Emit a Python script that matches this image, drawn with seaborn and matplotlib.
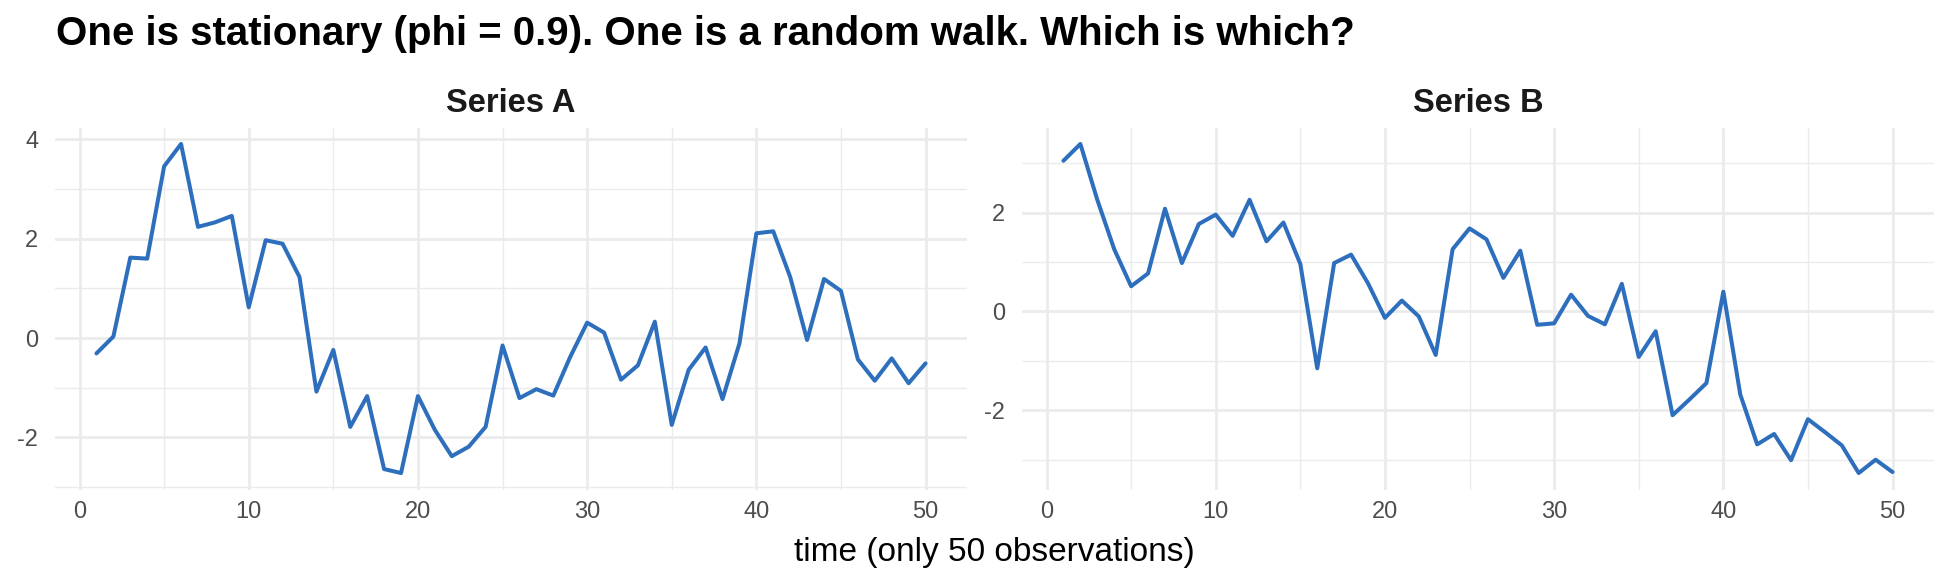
import numpy as np
import pandas as pd
import matplotlib
matplotlib.use("Agg")
import matplotlib.pyplot as plt
import seaborn as sns

# ---- data ----
time = list(range(1, 51))
series_a = [-0.31, 0.03, 1.62, 1.60, 3.46, 3.91, 2.24, 2.33, 2.46, 0.62,
            1.97, 1.90, 1.23, -1.08, -0.24, -1.79, -1.17, -2.64, -2.72, -1.17,
            -1.85, -2.38, -2.19, -1.79, -0.15, -1.21, -1.03, -1.16, -0.38, 0.31,
            0.11, -0.84, -0.55, 0.33, -1.75, -0.64, -0.19, -1.23, -0.11, 2.11,
            2.15, 1.23, -0.04, 1.19, 0.95, -0.43, -0.86, -0.41, -0.91, -0.51]
series_b = [3.05, 3.39, 2.26, 1.26, 0.51, 0.77, 2.08, 0.98, 1.77, 1.96,
            1.53, 2.26, 1.42, 1.80, 0.96, -1.15, 0.98, 1.15, 0.57, -0.13,
            0.22, -0.10, -0.88, 1.26, 1.68, 1.46, 0.68, 1.23, -0.27, -0.24,
            0.34, -0.09, -0.26, 0.56, -0.92, -0.40, -2.10, -1.78, -1.45, 0.40,
            -1.68, -2.69, -2.48, -3.01, -2.18, -2.44, -2.71, -3.27, -3.00, -3.25]
panel_names = ["Series A", "Series B"]
title = "One is stationary (phi = 0.9). One is a random walk. Which is which?"
xlabel = "time (only 50 observations)"
x_major = [0, 10, 20, 30, 40, 50]
y_major_a = [-2, 0, 2, 4]
y_major_b = [-2, 0, 2]

df = pd.DataFrame({
    "time": time * 2,
    "value": series_a + series_b,
    "series": [panel_names[0]] * 50 + [panel_names[1]] * 50,
})

sns.set_theme(style="white")
plt.rcParams["font.family"] = ["Liberation Sans", "DejaVu Sans"]
plt.rcParams["axes.unicode_minus"] = False

W, H = 1950, 585
fig = plt.figure(figsize=(W / 100, H / 100), dpi=100)

line_color = "#2E6FBD"
grid_color = "#EBEBEB"
tick_color = "#4D4D4D"

panels = [
    (panel_names[0], y_major_a, (55, 967)),
    (panel_names[1], y_major_b, (1022, 1934)),
]
top_px, bot_px = 127.5, 489.5

def expand(vals, f=0.05):
    lo, hi = min(vals), max(vals)
    r = hi - lo
    return lo - f * r, hi + f * r

for name, ymaj, (l, r) in panels:
    ax = fig.add_axes([l / W, 1 - bot_px / H, (r - l) / W, (bot_px - top_px) / H])
    sub = df[df["series"] == name]
    xlo, xhi = expand(sub["time"].tolist())
    ylo, yhi = expand(sub["value"].tolist())
    ax.set_xlim(xlo, xhi)
    ax.set_ylim(ylo, yhi)
    ax.set_xticks(x_major)
    ax.set_xticks([m + 5 for m in x_major if xlo <= m + 5 <= xhi], minor=True)
    ax.set_yticks(ymaj)
    ymin = sorted(set([m + 1 for m in ymaj] + [m - 1 for m in ymaj]))
    ax.set_yticks([m for m in ymin if ylo <= m <= yhi and m not in ymaj], minor=True)
    ax.grid(True, which="major", color=grid_color, linewidth=2.0)
    ax.grid(True, which="minor", color=grid_color, linewidth=1.0)
    ax.set_axisbelow(True)
    sns.lineplot(data=sub, x="time", y="value", ax=ax, color=line_color,
                 linewidth=2.9, legend=False)
    ax.set_xlim(xlo, xhi)
    ax.set_ylim(ylo, yhi)
    ax.set_xlabel("")
    ax.set_ylabel("")
    for s in ax.spines.values():
        s.set_visible(False)
    ax.tick_params(axis="both", which="both", length=0, labelsize=17,
                   labelcolor=tick_color)
    ax.tick_params(axis="x", pad=8.5)
    ax.tick_params(axis="y", pad=12)
    ax.set_facecolor("white")
    fig.text((l + r) / 2 / W, 1 - 112 / H, name, ha="center", va="baseline",
             fontsize=23.5, fontweight="bold", color="#1A1A1A")

fig.text(56.5 / W, 1 - 45 / H, title, ha="left", va="baseline",
         fontsize=29, fontweight="bold", color="black")
fig.text(994.5 / W, 1 - 561.5 / H, xlabel, ha="center", va="baseline",
         fontsize=24, color="black")

fig.savefig("out.png", dpi=100, facecolor="white")
